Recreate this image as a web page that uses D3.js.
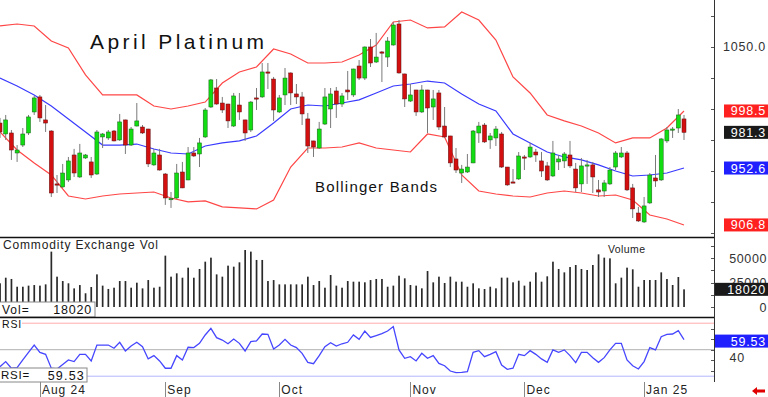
<!DOCTYPE html>
<html>
<head>
<meta charset="utf-8">
<script src="https://cdn.jsdelivr.net/npm/d3@7"></script>
<style>
  body { margin: 0; background: #fff; }
  svg { display: block; font-family: "Liberation Sans", Arial, sans-serif; }
</style>
</head>
<body>
<svg id="chart" width="768" height="397"></svg>
<script>
// daily bars, late Jul 2024 .. mid Jan 2025
const opens = [988.8,980.0,980.8,964.7,971.1,980.8,997.7,1009.8,991.3,982.4,
  939.8,937.4,943.0,963.1,945.4,960.7,957.5,947.8,977.6,976.8,
  982.4,975.2,991.3,971.1,986.4,985.6,984.0,955.1,963.1,947.8,
  927.5,928.5,949.4,943.0,964.7,963.9,977.6,1001.7,1017.0,1004.9,
  1004.1,986.4,1003.3,991.3,983.2,1009.0,1009.8,1029.9,1024.2,997.7,
  1011.4,1029.1,1012.2,1009.8,992.1,974.4,968.7,988.0,1000.1,1014.6,
  1004.1,1015.4,1011.4,1034.7,1025.0,1050.0,1037.9,1046.0,1041.9,1051.6,
  1068.5,1028.3,1006.5,1015.4,997.7,1015.4,1001.7,1013.0,986.4,978.4,
  959.9,948.6,949.4,956.7,980.8,987.2,975.2,976.8,980.0,953.4,
  941.4,943.8,961.5,961.5,965.5,958.3,954.3,946.2,957.5,958.3,
  963.1,951.8,939.8,954.3,955.1,935.0,934.1,939.8,953.4,961.5,
  964.7,936.6,916.4,909.2,924.5,944.6,943.0,974.4,983.2,984.8,
  992.1];
const highs = [992.9,995.3,983.2,971.1,984.8,995.3,1010.6,1011.4,1003.3,983.0,
  947.0,955.9,961.5,968.0,972.0,963.9,961.5,983.2,980.8,983.2,
  983.2,996.1,991.5,985.6,1004.9,987.2,984.2,968.0,968.0,948.6,
  933.3,955.9,957.5,969.5,969.5,976.8,1000.9,1024.2,1024.2,1009.8,
  1004.3,1013.0,1013.0,991.5,1006.5,1017.0,1037.1,1037.1,1025.9,1011.4,
  1033.1,1029.5,1020.2,1013.8,996.9,974.5,989.7,1017.0,1017.0,1017.8,
  1013.0,1030.7,1032.5,1039.5,1050.5,1056.4,1061.3,1046.8,1058.0,1070.1,
  1071.7,1028.5,1020.2,1015.5,1019.4,1015.5,1015.4,1015.4,1001.7,978.5,
  968.7,955.1,963.9,983.2,989.7,988.8,980.8,986.4,981.6,953.5,
  951.8,965.5,963.1,972.8,968.0,965.5,957.5,974.4,963.1,965.5,
  974.4,956.7,960.7,959.1,957.5,943.0,943.0,953.4,966.3,969.5,
  966.3,939.8,921.3,929.3,948.6,963.1,976.8,985.6,985.6,1000.1,
  995.3];
const lows = [976.8,975.2,959.1,957.5,969.5,979.2,995.3,989.7,981.6,929.3,
  932.5,936.6,941.4,945.4,944.6,959.9,944.6,947.0,968.7,975.2,
  974.0,974.4,963.9,970.3,986.0,980.0,953.4,954.3,950.5,922.9,
  920.5,927.7,936.4,942.8,961.5,953.4,976.8,1000.9,1003.5,996.9,
  984.8,985.6,991.3,974.4,981.6,999.3,1009.0,1016.2,990.5,996.9,
  1003.3,1003.3,1004.1,987.2,964.7,961.5,968.0,987.2,984.8,992.9,
  1001.7,1007.4,1009.8,1023.4,1023.4,1033.9,1037.1,1021.8,1033.9,1051.0,
  1028.5,1001.7,1005.7,994.5,996.9,980.8,991.3,983.2,976.8,953.4,
  948.6,940.6,948.6,956.5,972.8,972.8,968.0,970.3,952.6,938.2,
  940.5,943.0,951.0,960.7,957.5,945.4,942.2,945.4,951.0,952.6,
  952.6,933.3,933.3,939.8,932.5,929.3,929.3,939.0,951.0,960.7,
  934.1,912.4,909.2,908.4,923.7,937.4,942.2,972.8,976.8,980.8,
  975.2];
const closes = [981.6,991.3,967.1,967.1,980.0,993.7,1009.0,992.9,988.8,932.5,
  939.0,948.6,958.3,948.6,964.7,963.1,947.0,981.6,980.0,981.6,
  974.4,989.7,971.1,984.0,990.5,980.8,955.9,964.7,951.0,928.5,
  928.0,948.6,936.6,964.7,962.3,972.8,999.3,1023.5,1004.1,999.3,
  990.5,1010.6,997.7,980.8,1005.7,1008.2,1029.9,1029.1,999.3,1009.0,
  1025.0,1013.0,1009.8,996.1,970.3,969.5,984.0,1009.8,1012.2,1004.1,
  1010.6,1013.8,1032.3,1025.0,1050.0,1037.1,1041.9,1045.2,1054.8,1067.7,
  1029.1,1008.2,1011.4,997.7,1015.4,1000.9,1008.2,985.6,977.6,956.7,
  951.0,951.8,953.4,982.4,986.4,973.6,978.4,984.0,953.4,939.0,
  940.6,962.3,960.7,969.5,963.1,950.2,943.0,964.7,959.9,963.9,
  954.3,936.6,954.3,955.1,945.4,933.3,940.6,951.0,964.7,964.7,
  935.0,919.7,910.0,922.1,947.0,942.2,976.0,983.2,984.0,995.3,
  981.3];
const volumes = [24200,29900,28600,20700,20700,21800,22400,21800,23100,56500,
  30950,26500,24200,19000,22400,14000,20400,33300,21800,18400,
  19700,26500,26500,19700,24800,19000,27500,19700,20700,52400,
  30950,34350,29900,40150,29900,38800,46250,50350,33300,30950,
  42200,41150,45600,58150,56500,48000,48000,26500,27500,23100,
  23100,23100,23100,23100,30950,22400,26500,19700,32650,21800,
  19700,26500,25850,25850,25200,27500,28600,28600,20700,21800,
  31950,29250,22450,21800,19050,36700,25150,30950,24500,30950,
  25850,25850,20700,24150,19050,18350,20700,19050,29950,29950,
  25150,26850,21800,25850,35350,25850,31300,46250,38800,35350,
  40800,42850,38800,37750,42850,53750,50350,49650,24150,29950,
  40150,38450,20700,27550,27550,27550,35350,28550,22450,30600,
  18020];
const rsi = [34.0,38.8,32.5,33.1,40.3,47.5,54.4,47.5,45.6,32.5,
  31.8,36.1,40.3,38.8,45.6,45.6,39.4,54.4,54.4,54.4,
  51.4,57.0,48.8,53.5,57.0,52.9,41.3,44.4,39.4,32.5,
  32.5,44.4,40.3,52.3,52.0,56.0,63.9,70.1,61.4,59.1,
  55.6,60.1,56.0,48.8,57.6,58.3,64.8,64.5,50.6,54.4,
  59.8,54.4,52.0,46.6,38.1,36.8,44.4,52.9,56.6,53.5,
  55.6,57.0,63.9,59.8,67.6,61.6,63.3,65.1,67.6,71.8,
  49.8,41.9,43.4,39.4,46.6,41.9,44.4,37.1,34.9,29.9,
  28.4,28.6,29.3,47.5,49.1,43.4,45.6,48.1,35.6,31.5,
  32.5,45.6,44.4,49.1,45.6,41.3,38.1,49.8,47.5,49.8,
  44.4,37.8,47.5,47.5,42.5,38.1,42.5,49.8,56.0,56.0,
  40.3,34.9,31.8,38.8,52.0,49.8,62.3,64.5,64.8,67.9,
  59.53];

// Bollinger bands, read every third bar
const bandIdx = [0,3,6,9,12,15,18,21,24,27,30,33,36,39,42,45,48,51,54,57,
  60,63,66,69,72,75,78,81,84,87,90,93,96,99,102,105,108,111,114,117,120];
const bandUpper = [1066.9,1068.5,1066.9,1054.8,1049.2,1027.5,1011.4,1011.4,1011.4,1002.5,
  1000.1,1002.5,1005.7,1021.0,1029.9,1033.9,1048.4,1044.4,1037.1,1037.1,
  1037.9,1043.6,1051.6,1070.1,1071.7,1065.3,1066.1,1078.1,1071.7,1055.6,
  1025.9,1013.0,995.3,990.5,986.4,980.8,972.8,976.8,976.8,984.8,998.5];
const bandMid = [1025.0,1018.6,1011.4,1002.5,992.1,981.6,971.1,971.1,971.9,967.9,
  964.7,963.9,970.3,972.8,974.4,978.4,988.8,1000.1,1003.3,1002.5,
  1004.9,1007.4,1013.0,1018.6,1020.2,1022.6,1021.0,1012.2,1004.1,998.5,
  980.0,972.8,965.5,961.5,959.1,955.1,950.2,946.2,947.0,948.6,952.6];
const bandLower = [981.6,967.1,956.7,947.0,930.1,927.7,930.1,931.7,932.5,933.3,
  928.5,925.3,926.1,921.3,920.5,919.7,926.9,953.4,968.7,968.7,
  969.5,972.8,968.7,967.1,965.5,980.0,977.6,947.0,934.1,931.7,
  930.1,929.3,932.5,934.1,932.5,930.1,930.9,926.9,914.8,911.6,906.8];

const monthIdx = [7, 29, 49, 72, 92, 113];
const monthLabels = ["Aug 24", "Sep", "Oct", "Nov", "Dec", "Jan 25"];

const priceTicks = [900, 925, 950, 975, 1000, 1025, 1050, 1075];
const priceTickLabels = [1050];
const volTicks = [0, 12500, 25000, 37500, 50000, 62500];
const volTickLabels = [0, 25000, 50000];
const rsiTicks = [30, 40, 50, 60, 70];
const rsiTickLabels = [40];
const rsiLevels = [75, 50, 25];

const svg = d3.select("#chart");
const axisX = 714;

const x = d3.scaleLinear().domain([0, 120]).range([0, 684]);
const yPrice = d3.scaleLinear().domain([897.1, 1087.8]).range([237, 0]);
const yVol = d3.scaleLinear().domain([0, 50000]).range([307, 258]);
const yRsi = d3.scaleLinear().domain([25, 75]).range([376.2, 323.2]);

const defs = svg.append("defs");
function clip(id, y0, y1) {
  defs.append("clipPath").attr("id", id)
    .append("rect").attr("x", 0).attr("y", y0).attr("width", axisX).attr("height", y1 - y0);
}
clip("cp-price", 0, 237);
clip("cp-vol", 238, 317);
clip("cp-rsi", 318, 382);

// ---------- price panel ----------
const gPrice = svg.append("g").attr("clip-path", "url(#cp-price)");

gPrice.append("text")
  .attr("x", 90).attr("y", 49)
  .attr("font-size", 21).attr("fill", "#111")
  .attr("textLength", 174).attr("lengthAdjust", "spacing")
  .text("April Platinum");

gPrice.append("text")
  .attr("x", 315).attr("y", 192)
  .attr("font-size", 15).attr("fill", "#111")
  .attr("textLength", 122).attr("lengthAdjust", "spacing")
  .text("Bollinger Bands");

const bandLine = arr => d3.line()
  .x((d, k) => x(bandIdx[k]))
  .y(d => yPrice(d))(arr);

gPrice.append("path").attr("d", bandLine(bandUpper))
  .attr("fill", "none").attr("stroke", "#ff4646").attr("stroke-width", 1.2);
gPrice.append("path").attr("d", bandLine(bandLower))
  .attr("fill", "none").attr("stroke", "#ff4646").attr("stroke-width", 1.2);
gPrice.append("path").attr("d", bandLine(bandMid))
  .attr("fill", "none").attr("stroke", "#3a3aff").attr("stroke-width", 1.2);

const candles = closes.map((c, i) => ({ i, o: opens[i], h: highs[i], l: lows[i], c }));

gPrice.selectAll(".wick")
  .data(candles)
  .enter()
  .append("line")
  .attr("class", "wick")
  .attr("x1", d => x(d.i)).attr("x2", d => x(d.i))
  .attr("y1", d => yPrice(d.h)).attr("y2", d => yPrice(d.l))
  .attr("stroke", "#7a7a7a").attr("stroke-width", 1);

gPrice.selectAll(".body")
  .data(candles)
  .enter()
  .append("rect")
  .attr("class", "body")
  .attr("x", d => x(d.i) - 2)
  .attr("width", 4)
  .attr("y", d => yPrice(Math.max(d.o, d.c)))
  .attr("height", d => Math.max(1.2, Math.abs(yPrice(d.o) - yPrice(d.c))))
  .attr("fill", d => d.c >= d.o ? "#12dd12" : "#d40f0f")
  .attr("stroke", d => d.c >= d.o ? "#1b5e1b" : "#5e1212")
  .attr("stroke-width", 0.5);

// ---------- volume panel ----------
const gVol = svg.append("g").attr("clip-path", "url(#cp-vol)");

gVol.selectAll(".vbar")
  .data(volumes)
  .enter()
  .append("rect")
  .attr("class", "vbar")
  .attr("x", (d, i) => x(i) - 0.8)
  .attr("width", 1.7)
  .attr("y", d => yVol(d))
  .attr("height", d => yVol(0) - yVol(d))
  .attr("fill", "#2a2a2a");

gVol.append("text")
  .attr("x", 3).attr("y", 249)
  .attr("font-size", 12).attr("fill", "#222")
  .attr("textLength", 155).attr("lengthAdjust", "spacing")
  .text("Commodity Exchange Vol");

gVol.append("text")
  .attr("x", 608).attr("y", 253)
  .attr("font-size", 10.5).attr("fill", "#222")
  .attr("textLength", 37).attr("lengthAdjust", "spacing")
  .text("Volume");

svg.append("rect")
  .attr("x", -1).attr("y", 302).attr("width", 96).attr("height", 15)
  .attr("fill", "#fff").attr("stroke", "#888");
svg.append("text").attr("x", 2).attr("y", 314)
  .attr("font-size", 12).attr("fill", "#111").attr("letter-spacing", 1)
  .text("Vol=");
svg.append("text").attr("x", 92).attr("y", 314)
  .attr("font-size", 12.5).attr("fill", "#111").attr("letter-spacing", 0.8)
  .attr("text-anchor", "end")
  .text(d3.format("d")(volumes[volumes.length - 1]));

// ---------- RSI panel ----------
const gRsi = svg.append("g").attr("clip-path", "url(#cp-rsi)");
const levelColor = ["#ffaaaa", "#b0b0b0", "#b4b4ff"];

gRsi.selectAll(".level")
  .data(rsiLevels)
  .enter()
  .append("line")
  .attr("x1", 0).attr("x2", axisX)
  .attr("y1", d => yRsi(d)).attr("y2", d => yRsi(d))
  .attr("stroke", (d, k) => levelColor[k]).attr("stroke-width", 1);

gRsi.append("path")
  .datum(rsi)
  .attr("d", d3.line().x((d, i) => x(i)).y(d => yRsi(d)))
  .attr("fill", "none").attr("stroke", "#4646ff").attr("stroke-width", 1.3);

svg.append("rect").attr("x", 0).attr("y", 318).attr("width", 22).attr("height", 12).attr("fill", "#fff");
svg.append("text").attr("x", 2).attr("y", 328)
  .attr("font-size", 10.5).attr("fill", "#111").attr("letter-spacing", 0.8)
  .text("RSI");

svg.append("rect")
  .attr("x", -1).attr("y", 368).attr("width", 88).attr("height", 14)
  .attr("fill", "#fff").attr("stroke", "#888");
svg.append("text").attr("x", 1).attr("y", 379)
  .attr("font-size", 11.5).attr("fill", "#111").attr("letter-spacing", 0.8)
  .text("RSI=");
svg.append("text").attr("x", 85).attr("y", 380)
  .attr("font-size", 12.5).attr("fill", "#111").attr("letter-spacing", 1.2)
  .attr("text-anchor", "end")
  .text(d3.format(".2f")(rsi[rsi.length - 1]));

// ---------- frame ----------
svg.append("line").attr("x1", 0).attr("x2", axisX + 1).attr("y1", 237.5).attr("y2", 237.5)
  .attr("stroke", "#111").attr("stroke-width", 1.6);
svg.append("line").attr("x1", 0).attr("x2", axisX + 1).attr("y1", 317.5).attr("y2", 317.5)
  .attr("stroke", "#111").attr("stroke-width", 1.6);
svg.append("line").attr("x1", axisX + 0.5).attr("x2", axisX + 0.5).attr("y1", 0).attr("y2", 382)
  .attr("stroke", "#333").attr("stroke-width", 1);

// ---------- right axes ----------
const gAxis = svg.append("g");
function ticks(vals, scale) {
  gAxis.selectAll(null)
    .data(vals)
    .enter()
    .append("line")
    .attr("x1", axisX - 3).attr("x2", axisX)
    .attr("y1", d => Math.round(scale(d)) + 0.5).attr("y2", d => Math.round(scale(d)) + 0.5)
    .attr("stroke", "#555").attr("stroke-width", 1);
}
ticks(priceTicks, yPrice);
ticks(volTicks, yVol);
ticks(rsiTicks, yRsi);

const labelFont = 12.5;
gAxis.selectAll(".plabel")
  .data(priceTickLabels)
  .enter()
  .append("text")
  .attr("x", 766).attr("y", d => yPrice(d) + 4.5)
  .attr("text-anchor", "end").attr("font-size", labelFont).attr("fill", "#333")
  .attr("letter-spacing", 0.8)
  .text(d => d3.format(".1f")(d));

gAxis.selectAll(".vlabel")
  .data(volTickLabels)
  .enter()
  .append("text")
  .attr("x", 767).attr("y", d => yVol(d) + 4.5)
  .attr("text-anchor", "end").attr("font-size", labelFont).attr("fill", "#333")
  .attr("letter-spacing", 0.6)
  .text(d => d3.format("d")(d));

gAxis.selectAll(".rlabel")
  .data(rsiTickLabels)
  .enter()
  .append("text")
  .attr("x", 745).attr("y", d => yRsi(d) + 2)
  .attr("text-anchor", "end").attr("font-size", labelFont).attr("fill", "#333")
  .attr("letter-spacing", 0.8)
  .text(d => d);

// value markers
const last = closes.length - 1;
const markers = [
  { y: yPrice(bandUpper[bandUpper.length - 1]), v: d3.format(".1f")(bandUpper[bandUpper.length - 1]), fill: "#ff2020", x0: 724 },
  { y: yPrice(closes[last]), v: d3.format(".1f")(closes[last]), fill: "#1a1a1a", x0: 724 },
  { y: yPrice(bandMid[bandMid.length - 1]), v: d3.format(".1f")(bandMid[bandMid.length - 1]), fill: "#2020ff", x0: 724 },
  { y: yPrice(bandLower[bandLower.length - 1]), v: d3.format(".1f")(bandLower[bandLower.length - 1]), fill: "#ff2020", x0: 724 },
  { y: yVol(volumes[last]), v: d3.format("d")(volumes[last]), fill: "#1a1a1a", x0: 715 },
  { y: yRsi(rsi[last]) + 1.5, v: d3.format(".2f")(rsi[last]), fill: "#2020ff", x0: 715 }
];
const gm = svg.append("g").selectAll("g").data(markers).enter().append("g");
gm.append("rect")
  .attr("x", d => d.x0).attr("y", d => d.y - 6.5)
  .attr("width", d => 768 - d.x0).attr("height", 13)
  .attr("fill", d => d.fill);
gm.append("text")
  .attr("x", 766).attr("y", d => d.y + 4.5)
  .attr("text-anchor", "end").attr("font-size", labelFont).attr("fill", "#fff")
  .attr("letter-spacing", 0.8)
  .text(d => d.v);

// ---------- date axis ----------
const gDate = svg.append("g");
gDate.selectAll("line")
  .data(monthIdx)
  .enter()
  .append("line")
  .attr("x1", d => Math.round(x(d)) + 0.5).attr("x2", d => Math.round(x(d)) + 0.5)
  .attr("y1", 382).attr("y2", 397)
  .attr("stroke", "#888").attr("stroke-width", 1);
gDate.selectAll("text")
  .data(monthIdx)
  .enter()
  .append("text")
  .attr("x", d => x(d) + 2).attr("y", 394)
  .attr("font-size", 12).attr("fill", "#222").attr("letter-spacing", 1)
  .text((d, k) => monthLabels[k]);

// small red arrow, bottom right
svg.append("path")
  .attr("d", "M752,391 L757,387 L757,389.5 L765,389.5 L765,392.5 L757,392.5 L757,395 Z")
  .attr("fill", "#e00000");
</script>
</body>
</html>
